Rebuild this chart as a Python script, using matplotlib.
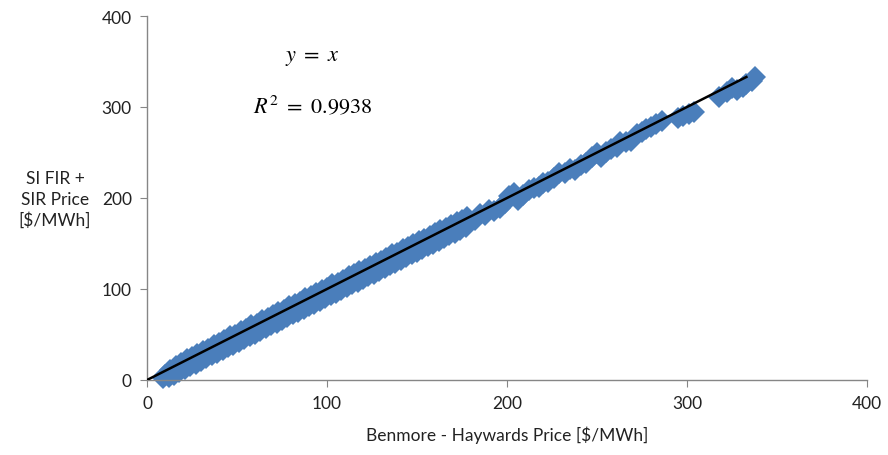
import matplotlib
matplotlib.use("Agg")
import matplotlib.pyplot as plt

# ---- data ----
upper_x = [10, 13, 16, 19, 22, 25, 28, 31, 34, 37, 40, 43, 46, 49, 52, 55, 58, 61, 64, 67,
           70, 73, 76, 79, 82, 85, 88, 91, 94, 97, 100, 103, 106, 109, 112, 115, 118, 121,
           124, 127, 130, 133, 136, 139, 142, 145, 148, 151, 154, 157, 160, 163, 166, 169,
           172, 175, 178]
upper_y = [5, 11, 15, 19, 23, 25, 29, 32, 34, 39, 41, 44, 48, 50, 54, 56, 60, 62, 66, 68,
           71, 75, 77, 81, 83, 86, 90, 92, 96, 99, 101, 105, 107, 110, 114, 116, 120, 122,
           125, 129, 131, 134, 138, 140, 144, 146, 149, 153, 155, 158, 161, 165, 167, 170,
           174, 176, 179]
lower_x = [9, 12, 15, 18, 21, 24, 27, 30, 33, 36, 39, 42, 45, 48, 51, 54, 57, 60, 63, 66,
           69, 72, 75, 78, 81, 84, 87, 90, 93, 96, 99, 102, 105, 108, 111, 114, 117, 120,
           123, 126, 129, 132, 135, 138, 141, 144, 147, 150, 153, 156, 159, 162, 165, 168,
           171, 174, 177]
lower_y = [2, 3, 6, 9, 12, 15, 18, 21, 24, 27, 30, 33, 36, 39, 42, 45, 48, 51, 54, 57,
           60, 63, 66, 69, 72, 75, 78, 81, 84, 87, 90, 93, 96, 99, 102, 105, 108, 111,
           114, 117, 120, 123, 126, 129, 132, 135, 138, 141, 144, 147, 150, 153, 156, 159,
           162, 165, 168]
high_x = [182, 185, 188, 190, 193, 196, 199, 201, 204, 206, 209, 212, 215, 218, 220, 223,
          226, 229, 232, 235, 238, 241, 244, 247, 250, 252, 255, 258, 261, 263, 266, 269,
          272, 275, 277, 280, 283, 286, 295, 298, 301, 304, 318, 322, 325, 328, 331, 333,
          336, 338]
high_y = [176, 182, 181, 187, 186, 189, 195, 202, 205, 198, 203, 209, 211, 212, 217, 218,
          222, 227, 228, 232, 231, 236, 238, 245, 249, 245, 251, 254, 256, 261, 261, 263,
          270, 273, 276, 278, 281, 285, 288, 290, 292, 295, 311, 317, 321, 319, 322, 325,
          329, 333]
fit_x = [0, 333]
fit_y = [0, 333]

x_ticks = [0, 100, 200, 300, 400]
y_ticks = [0, 100, 200, 300, 400]

blue = "#4A7EBB"
grey = "#868686"

plt.rcParams["font.family"] = ["Lato", "DejaVu Sans"]
plt.rcParams["mathtext.fontset"] = "stix"

fig = plt.figure(figsize=(8.88, 4.56), dpi=100)
ax = fig.add_axes([147 / 888, 1 - 381 / 456, 720 / 888, 364 / 456])

xs = upper_x + lower_x + high_x
ys = upper_y + lower_y + high_y
ax.plot(xs, ys, linestyle="none", marker="D", markersize=11, color=blue,
        markeredgewidth=0, zorder=2, clip_on=False)
ax.plot(fit_x, fit_y, color="black", linewidth=1.8, zorder=3)

ax.set_xlim(0, 400)
ax.set_ylim(0, 400)
ax.set_xticks(x_ticks)
ax.set_yticks(y_ticks)
for s in ["top", "right"]:
    ax.spines[s].set_visible(False)
for s in ["left", "bottom"]:
    ax.spines[s].set_color(grey)
    ax.spines[s].set_linewidth(1.0)
ax.tick_params(axis="both", direction="out", length=5, color=grey, labelsize=12.5,
               labelcolor="#222222", pad=6)

ax.set_xlabel("Benmore - Haywards Price [$/MWh]", fontsize=12.5, color="#222222", labelpad=10)
fig.text(55 / 888, 1 - 200 / 456, "SI FIR +\nSIR Price\n[$/MWh]", ha="center", va="center",
         fontsize=12.5, color="#222222", linespacing=1.35)

ax.text(92, 355, r"$y\ =\ x$", ha="center", va="center", fontsize=16, color="black")
ax.text(92, 303, r"$R^2\ =\ 0.9938$", ha="center", va="center", fontsize=16, color="black")

fig.savefig("out.png", dpi=100)
